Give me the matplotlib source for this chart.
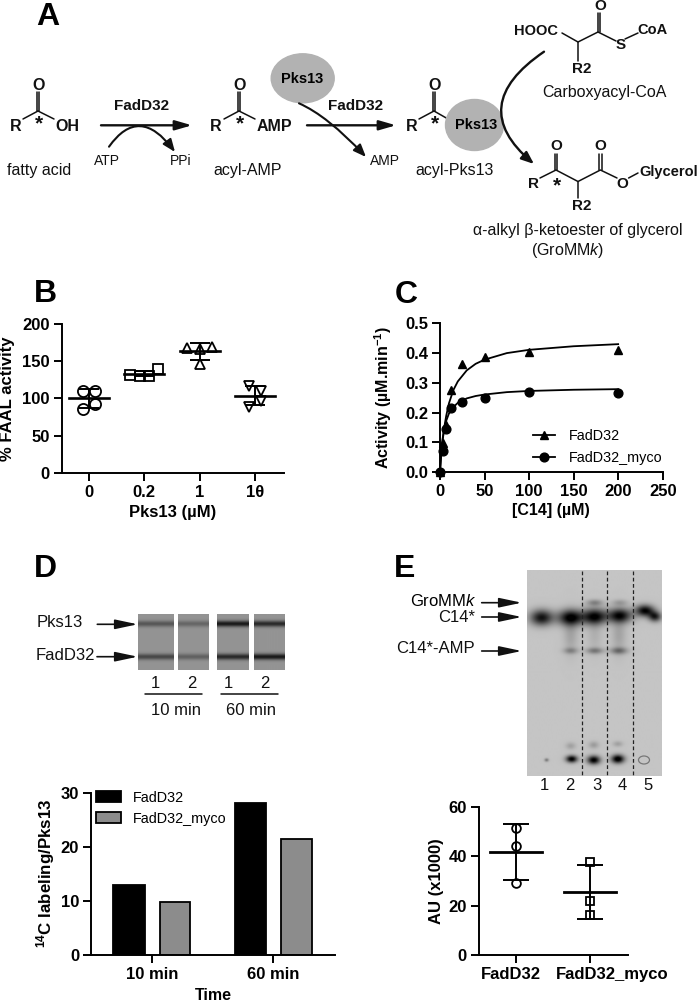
import numpy as np
import matplotlib
matplotlib.use("Agg")
import matplotlib.pyplot as plt
from matplotlib.patches import Ellipse, FancyArrowPatch
from matplotlib.path import Path
from matplotlib.transforms import ScaledTranslation

plt.rcParams['font.family'] = ['Liberation Sans', 'DejaVu Sans']
plt.rcParams['mathtext.fontset'] = 'custom'
plt.rcParams['mathtext.rm'] = 'Liberation Sans'
plt.rcParams['mathtext.it'] = 'Liberation Sans:italic'
plt.rcParams['mathtext.bf'] = 'Liberation Sans:bold'

# panel B
b_labels = ["0", "0.2", "1", "1θ"]
b_values = [[110, 110, 92, 86], [132, 130, 130, 139], [167.6, 166, 168.5, 145.6], [117, 110, 97, 88.5]]
b_offsets = [[-0.105, 0.11, 0.11, -0.105], [-0.25, -0.08, 0.09, 0.25], [-0.22, 0, 0.23, 0], [-0.105, 0.11, 0.11, -0.105]]
b_means = [100, 133.3, 163.6, 103.5]
b_err_hi = [113, 137, 174, 116]
b_err_lo = [87, 130, 152, 91]
b_markers = ['o', 's', '^', 'v']
b_sizes = [8, 6.8, 6.5, 6.5]

# panel C
c_conc = [0, 3.125, 6.25, 12.5, 25, 50, 100, 200]
c_fadd32 = [0, 0.097, 0.159, 0.276, 0.365, 0.386, 0.403, 0.41]
c_myco = [0, 0.072, 0.144, 0.215, 0.235, 0.25, 0.271, 0.266]
c_fit_x = [0, 1, 2, 3, 5, 7, 10, 15, 20, 30, 40, 50, 75, 100, 150, 200]
c_fit_fadd32 = [0, 0.043, 0.078, 0.108, 0.155, 0.19, 0.231, 0.276, 0.305, 0.342, 0.364, 0.378, 0.40, 0.411, 0.423, 0.43]
c_fit_myco = [0, 0.052, 0.088, 0.114, 0.15, 0.173, 0.197, 0.219, 0.233, 0.248, 0.256, 0.261, 0.269, 0.273, 0.277, 0.279]

# panel D bars
d_times = ["10 min", "60 min"]
d_fadd32 = [13, 28.2]
d_myco = [9.8, 21.6]

# panel E dots
e_labels = ["FadD32", "FadD32_myco"]
e_fadd32 = [51.3, 44.3, 29]
e_myco = [37.7, 21.9, 16.4]
e_means = [41.8, 25.5]
e_err_hi = [53, 36.5]
e_err_lo = [30.4, 14.6]

# gels (x centre, y centre, x sigma, y sigma, darkness), all read in pixels
gel_d_lanes = [(138.3, 174), (178.3, 209.3), (217, 249), (254, 284.3)]
gel_d_pks = [0.24, 0.18, 0.48, 0.42]
gel_d_fad = [0.3, 0.2, 0.42, 0.48]
gel_e_spots = [(541, 618, 8, 5.5, 0.7), (570, 618, 9, 5.5, 0.76), (594, 617, 8.5, 5.5, 0.74), (619, 616, 8.5, 5, 0.72),
               (644, 611, 6.5, 4, 0.76), (654, 617, 4.5, 3.5, 0.62),
               (594, 603, 5.5, 2.2, 0.24), (619, 603, 5.5, 2.2, 0.15),
               (570, 651, 5, 2.2, 0.22), (594, 651, 6, 2.2, 0.28), (618, 651, 6, 2.4, 0.32),
               (570, 634, 5, 14, 0.13), (594, 634, 5, 14, 0.08), (618, 634, 5, 14, 0.13),
               (570, 746, 3.5, 2.5, 0.14), (593, 745, 3.5, 2.5, 0.16), (617, 744, 3.5, 2, 0.14),
               (546, 760, 1.5, 1.2, 0.3), (571, 759, 4, 2.5, 0.8), (593, 760, 4.5, 3, 0.8), (617, 759, 4.5, 3, 0.85)]

fig = plt.figure(figsize=(7, 10.02), dpi=100)
bg = fig.add_axes([0, 0, 1, 1])
bg.set_zorder(0)
bg.axis('off')


def px_axes(x0, y0, x1, y1):
    # x0,y0 top left and x1,y1 bottom right in image pixels
    ax = fig.add_axes([x0 / 700, 1 - y1 / 1002, (x1 - x0) / 700, (y1 - y0) / 1002])
    ax.patch.set_alpha(0)
    ax.set_zorder(2)
    for s in ['top', 'right']:
        ax.spines[s].set_visible(False)
    for s in ['left', 'bottom']:
        ax.spines[s].set_linewidth(1.4)
    ax.tick_params(width=1.4, length=5.5, labelsize=12, pad=3)
    return ax


def bold_ticks(ax):
    for t in ax.get_xticklabels() + ax.get_yticklabels():
        t.set_fontweight('bold')


def txt(x, y, s, size=11.5, weight='normal', ha='center', va='center'):
    bg.text(x, y, s, fontsize=size, fontweight=weight, ha=ha, va=va, color='#111111')


def bond(*pts, lw=1.1):
    xs = [p[0] for p in pts]
    ys = [p[1] for p in pts]
    bg.plot(xs, ys, color='#111111', lw=lw, solid_capstyle='round')


def double_bond(x, y0, y1):
    bond((x - 1.3, y0), (x - 1.3, y1))
    bond((x + 1.3, y0), (x + 1.3, y1))


def arrow(x0, x1, y, lw=1.7, head=14, wide=4):
    bg.add_patch(FancyArrowPatch((x0, y), (x1, y), arrowstyle=f'-|>,head_length={head / 1.39 / 5:.2f},head_width={wide / 1.39 / 5:.2f}',
                                 mutation_scale=5, lw=lw, color='#111111', shrinkA=0, shrinkB=0, zorder=4))


def curve(p0, via, p1, lw=1.5):
    ctrl = (2 * via[0] - 0.5 * (p0[0] + p1[0]), 2 * via[1] - 0.5 * (p0[1] + p1[1]))
    path = Path([p0, ctrl, p1], [Path.MOVETO, Path.CURVE3, Path.CURVE3])
    bg.add_patch(FancyArrowPatch(path=path, arrowstyle='-|>,head_length=1.5,head_width=0.6',
                                 mutation_scale=5, lw=lw, color='#111111', zorder=4))


def acyl(cx, left_x, right_x=None):
    txt(cx + 0.8, 85, "O", 11.5, 'bold')
    double_bond(cx, 92, 111)
    bond((cx - 15, 119), (cx, 111))
    if right_x is not None:
        bond((cx, 111), (right_x, 119))
    txt(left_x, 126, "R", 11.5, 'bold')
    txt(cx + 0.5, 124, "*", 15, 'bold')


# panel letters
for x, y, s in [(36, 25, "A"), (34, 301.7, "B"), (395, 303.3, "C"), (34, 576.7, "D"), (394, 576.7, "E")]:
    bg.text(x, y, s, fontsize=23, fontweight='bold', ha='left', va='baseline', color='black')

# panel A scheme
acyl(38, 15.6, 54)
txt(67, 126, "OH", 11.5, 'bold')
txt(39, 170, "fatty acid")
acyl(239, 216, 255)
txt(274.5, 126, "AMP", 11.5, 'bold')
txt(248, 170, "acyl-AMP")
acyl(434, 411.6, 448)
txt(454.5, 170, "acyl-Pks13")

arrow(101, 192, 125.3)
txt(142, 105.7, "FadD32", 11, 'bold')
curve((109, 146.7), (140.6, 126.7), (175, 152))
txt(107, 161, "ATP", 10)
txt(181, 161, "PPi", 10)

arrow(307, 396, 125.3)
txt(356, 105.7, "FadD32", 11, 'bold')
curve((299, 103.3), (330, 123), (366, 157))
txt(385, 161, "AMP", 10)

bg.add_patch(Ellipse((302.7, 78.3), 63, 49, color='#b2b2b2', zorder=3))
bg.add_patch(Ellipse((474.5, 125), 58, 51, color='#b2b2b2', zorder=3))
bg.text(302, 78.5, "Pks13", fontsize=10.5, fontweight='bold', ha='center', va='center', zorder=5)
bg.text(476.5, 125, "Pks13", fontsize=10.5, fontweight='bold', ha='center', va='center', zorder=5)
curve((544, 51.7), (502, 106.7), (534, 164), lw=1.7)

txt(535.7, 31, "HOOC", 10.5, 'bold')
bond((562, 33), (578, 42), (598, 32), (616, 41))
bond((578, 42), (578, 61))
double_bond(599, 13, 32)
txt(600, 6, "O", 11, 'bold')
txt(621, 45, "S", 11, 'bold')
bond((625, 39), (638, 33))
txt(652.7, 30, "CoA", 10.5, 'bold')
txt(581.7, 69.3, "R2", 11, 'bold')
txt(604, 92.7, "Carboxyacyl-CoA")

double_bond(556, 154, 170)
double_bond(600.4, 154, 170)
txt(556, 146, "O", 11, 'bold')
txt(600.4, 146, "O", 11, 'bold')
bond((540, 178), (556, 170), (578, 181.5), (600.4, 170), (617, 178))
bond((578, 181.5), (578, 198))
txt(533.5, 184, "R", 11, 'bold')
txt(556.5, 186, "*", 15, 'bold')
txt(622.8, 184, "O", 11, 'bold')
bond((628.6, 178), (638, 173))
txt(669, 171.5, "Glycerol", 10.5, 'bold')
txt(581.7, 205.7, "R2", 11, 'bold')
txt(578, 230.7, "α-alkyl β-ketoester of glycerol")
txt(568, 250, r"(GroMM$\mathit{k}$)")

# gel in panel D, no grain on purpose
for (x0, x1), pk, fa in zip(gel_d_lanes, gel_d_pks, gel_d_fad):
    xx, yy = np.meshgrid(np.arange(x0, x1, 0.5), np.arange(614, 669.7, 0.5))
    img = 0.58 - pk * np.exp(-((yy - 623.5) / 3) ** 2) - fa * np.exp(-((yy - 656.5) / 3) ** 2)
    bg.imshow(img, extent=(x0, x1, 669.7, 614), cmap='gray', vmin=0, vmax=1, aspect='auto')
txt(60, 622.7, "Pks13", 12)
txt(65.7, 655.7, "FadD32", 12)
arrow(97.3, 137.7, 624.3, lw=1.2, head=19, wide=4)
arrow(97, 137.7, 656.7, lw=1.2, head=19, wide=4)
for x, s in zip([155.7, 192.3, 228.3, 265], ["1", "2", "1", "2"]):
    txt(x, 684, s, 12)
bond((145, 694.3), (201.7, 694.3), lw=1.1)
bond((221.3, 694.3), (278.3, 694.3), lw=1.1)
txt(175.7, 710.7, "10 min", 12)
txt(250.7, 710.7, "60 min", 12)

# TLC plate in panel E
xx, yy = np.meshgrid(np.arange(526.7, 661, 0.5), np.arange(570.7, 776, 0.5))
plate = np.full(xx.shape, 0.77)
for sx, sy, wx, wy, dark in gel_e_spots:
    plate -= dark * np.exp(-((xx - sx) / (wx * 1.414)) ** 2 - ((yy - sy) / (wy * 1.414)) ** 2)
bg.imshow(plate, extent=(526.7, 661, 776, 570.7), cmap='gray', vmin=0, vmax=1, aspect='auto')
bg.add_patch(Ellipse((644, 760), 11, 8, fill=False, ec='#777777', lw=0.9, zorder=3))
for x in [581.7, 606.7, 632.7]:
    bg.plot([x, x], [570.7, 776], color='#222222', lw=0.9, ls=(0, (3, 2)))
bg.text(476, 601, r"GroMM$\mathit{k}$", fontsize=12, ha='right', va='center')
txt(475, 618, "C14*", 12, ha='right')
txt(475, 648.7, "C14*-AMP", 12, ha='right')
arrow(481.7, 521.7, 602.7, lw=1.2, head=19, wide=4)
arrow(481.7, 521.7, 617, lw=1.2, head=19, wide=4)
arrow(481.7, 521.7, 651, lw=1.2, head=19, wide=4)
for x, s in zip([544.3, 570.3, 596.7, 622.3, 648.3], "12345"):
    txt(x, 785, s, 12)

bg.set_xlim(0, 700)
bg.set_ylim(1002, 0)

# B
ax = px_axes(61.7, 324, 284, 472.7)
ax.set_xlim(-0.486, 3.52)
ax.set_ylim(0, 200)
for i in range(4):
    ax.errorbar(i, b_means[i], yerr=[[b_means[i] - b_err_lo[i]], [b_err_hi[i] - b_means[i]]], color='black',
                lw=1.4, capsize=7.5, capthick=1.4, zorder=3)
    ax.plot([i - 0.36, i + 0.36], [b_means[i], b_means[i]], color='black', lw=1.9, zorder=3)
    xs = [i + o for o in b_offsets[i]]
    ax.plot(xs, b_values[i], ls='none', marker=b_markers[i], ms=b_sizes[i], mfc='none', mec='black', mew=1.3, zorder=4)
ax.set_xticks(range(4), b_labels)
ax.set_yticks([0, 50, 100, 150, 200])
ax.set_xlabel("Pks13 (µM)", fontsize=12, fontweight='bold', va='center')
ax.set_ylabel("% FAAL activity", fontsize=12, fontweight='bold', va='center')
ax.xaxis.set_label_coords(173, 513, transform=bg.transData)
ax.yaxis.set_label_coords(8, 399, transform=bg.transData)
bold_ticks(ax)

# C
ax = px_axes(440, 323.3, 662.7, 472.3)
ax.set_xlim(0, 250)
ax.set_ylim(0, 0.5)
ax.plot(c_fit_x, c_fit_fadd32, color='black', lw=1.3, clip_on=False)
ax.plot(c_fit_x, c_fit_myco, color='black', lw=1.3, clip_on=False)
ax.plot(c_conc, c_fadd32, ls='none', marker='^', ms=6, color='black', clip_on=False, zorder=4)
ax.plot(c_conc, c_myco, ls='none', marker='o', ms=6.3, color='black', clip_on=False, zorder=4)
ax.plot([], [], color='black', lw=1.3, marker='^', ms=6, label="FadD32")
ax.plot([], [], color='black', lw=1.3, marker='o', ms=6.3, label="FadD32_myco")
ax.legend(loc='center left', bbox_to_anchor=(533, 447), bbox_transform=bg.transData, frameon=False, fontsize=10.4,
          handlelength=1.55, handletextpad=0.9, labelspacing=0.5, borderpad=0, borderaxespad=0)
ax.set_xticks([0, 50, 100, 150, 200, 250])
ax.set_yticks([0, 0.1, 0.2, 0.3, 0.4, 0.5], ["0.0", "0.1", "0.2", "0.3", "0.4", "0.5"])
ax.set_xlabel("[C14] (µM)", fontsize=11.5, fontweight='bold', va='center')
ax.set_ylabel(r"Activity (µM.min$\mathbf{^{-1}}$)", fontsize=11.5, fontweight='bold', va='center')
ax.xaxis.set_label_coords(551, 511, transform=bg.transData)
ax.yaxis.set_label_coords(383, 398, transform=bg.transData)
bold_ticks(ax)

# D bars
ax = px_axes(91, 793.3, 335, 955.3)
ax.set_xlim(-0.5, 1.507)
ax.set_ylim(0, 30)
x_pos = np.arange(2)
ax.bar(x_pos - 0.187, d_fadd32, 0.26, color='black', ec='black', lw=1.3, label="FadD32")
ax.bar(x_pos + 0.189, d_myco, 0.25, color='#8c8c8c', ec='black', lw=1.3, label="FadD32_myco")
ax.legend(loc='upper left', bbox_to_anchor=(96, 790.5), bbox_transform=bg.transData, frameon=False, fontsize=10.4,
          handlelength=1.7, handleheight=0.75, handletextpad=0.85, labelspacing=0.5, borderpad=0, borderaxespad=0)
ax.set_xticks(x_pos, d_times)
ax.set_yticks([0, 10, 20, 30])
ax.set_xlabel("Time", fontsize=11.5, fontweight='bold', va='center')
ax.set_ylabel(r"$\mathbf{^{14}}$C labeling/Pks13", fontsize=12.2, fontweight='bold', va='center')
ax.xaxis.set_label_coords(213, 995, transform=bg.transData)
ax.yaxis.set_label_coords(46, 873, transform=bg.transData)
bold_ticks(ax)

# E dots
ax = px_axes(478.7, 806.7, 627.7, 955.3)
ax.set_xlim(-0.498, 1.507)
ax.set_ylim(0, 60)
for i, (vals, m) in enumerate(zip([e_fadd32, e_myco], ['o', 's'])):
    ax.errorbar(i, e_means[i], yerr=[[e_means[i] - e_err_lo[i]], [e_err_hi[i] - e_means[i]]], color='black',
                lw=1.4, capsize=9.6, capthick=1.4, zorder=3)
    ax.plot([i - 0.35, i + 0.35], [e_means[i], e_means[i]], color='black', lw=2, zorder=3)
    ax.plot([i] * 3, vals, ls='none', marker=m, ms=6.3, mfc='none', mec='black', mew=1.3, zorder=4)
ax.set_xticks([0, 1], e_labels)
ax.set_yticks([0, 20, 40, 60])
ax.set_ylabel("AU (x1000)", fontsize=12, fontweight='bold', va='center')
ax.yaxis.set_label_coords(436, 881, transform=bg.transData)
bold_ticks(ax)
# the two labels sit off their ticks in the figure
for t, dx in zip(ax.get_xticklabels(), [-4.7, 21.7]):
    t.set_transform(t.get_transform() + ScaledTranslation(dx / 100, 0, fig.dpi_scale_trans))

fig.savefig("out.png", dpi=100)
